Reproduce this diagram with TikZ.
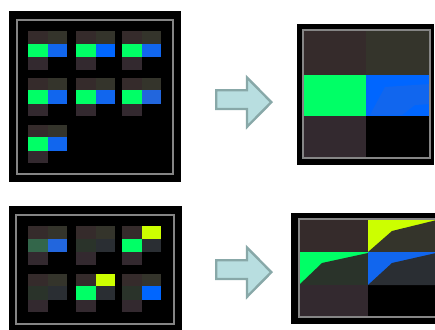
\documentclass[tikz,border=0pt]{standalone}
\definecolor{tlc}{HTML}{352B2B}
\definecolor{trc}{HTML}{34342B}
\definecolor{blc}{HTML}{33292F}
\definecolor{grn}{HTML}{00FF66}
\definecolor{bluA}{HTML}{0066FF}
\definecolor{bluB}{HTML}{1166EE}
\definecolor{bluC}{HTML}{2266DD}
\definecolor{yel}{HTML}{CCFF00}
\definecolor{dgrn}{HTML}{2A332A}
\definecolor{dgry}{HTML}{2A2E33}
\definecolor{mgrn}{HTML}{33664A}
\definecolor{framegray}{HTML}{858585}
\definecolor{arrowfill}{HTML}{B8DEE0}
\definecolor{arrowline}{HTML}{88A8A8}
\tikzset{
  panel/.style={fill=black},
  frame/.style={draw=framegray, line width=2pt},
  bigarrow/.style={fill=arrowfill, draw=arrowline, line width=2.4pt, line join=miter},
}
% tile: x, y, top-right colour, middle-left colour, middle-right colour
\newcommand{\mytile}[5]{%
  \begin{scope}[shift={(#1,#2)}]
    \fill[tlc] (0,0) rectangle (19.7,12.5);
    \fill[#3] (19.7,0) rectangle (39.4,12.5);
    \fill[#4] (0,12.5) rectangle (19.7,26);
    \fill[#5] (19.7,12.5) rectangle (39.4,26);
    \fill[blc] (0,26) rectangle (19.7,38.5);
  \end{scope}}
\begin{document}
\begin{tikzpicture}[x=1pt,y=-1pt]
\useasboundingbox (0,0) rectangle (435,329);
\clip (0,0) rectangle (435,329);
\fill[white] (0,0) rectangle (435,329);

% ---------- top-left panel ----------
\fill[panel] (9,11) rectangle (181,182);
\mytile{28}{31}{trc}{grn}{bluB}
\mytile{76}{31}{trc}{grn}{bluA}
\mytile{122}{31}{trc}{grn}{bluB}
\mytile{28}{77.5}{trc}{grn}{bluB}
\mytile{76}{77.5}{trc}{grn}{bluB}
\mytile{122}{77.5}{trc}{grn}{bluC}
\mytile{28}{124.5}{trc}{grn}{bluB}
\draw[frame] (16.7,20) rectangle (172.7,173.7);

% ---------- top arrow ----------
\draw[bigarrow] (216.2,90.2) -- (247,90.2) -- (247,77.5) -- (271.3,102.2) -- (247,126.8) -- (247,109) -- (216.2,109) -- cycle;

% ---------- top-right panel ----------
\fill[panel] (297,24) rectangle (434,165);
\fill[tlc] (303,30) rectangle (366,75);
\fill[trc] (366,30) rectangle (430,75);
\fill[grn] (303,75) rectangle (366,116);
\fill[bluA] (366,75) rectangle (430,116);
\fill[bluB] (370,115) -- (385,87) -- (430,84) -- (430,104) -- (415,105) -- (402,115) -- cycle;
\fill[blc] (303,116) rectangle (366,158);
\draw[frame] (303,30) rectangle (430,158);

% ---------- bottom-left panel ----------
\fill[panel] (9,206) rectangle (182,335);
\mytile{28}{226}{trc}{mgrn}{bluC}
\mytile{76}{226}{trc}{dgrn}{dgry}
\mytile{122}{226}{yel}{grn}{dgry}
\mytile{28}{273.5}{trc}{dgrn}{dgry}
\mytile{76}{273.5}{yel}{grn}{dgry}
\mytile{122}{273.5}{trc}{dgrn}{bluA}
\draw[frame] (16.3,215) rectangle (173.7,324);

% ---------- bottom arrow ----------
\draw[bigarrow] (216.2,260.2) -- (247,260.2) -- (247,247.5) -- (271.3,272.2) -- (247,296.8) -- (247,279) -- (216.2,279) -- cycle;

% ---------- bottom-right panel ----------
\fill[panel] (291,213) rectangle (445,324);
\fill[tlc] (299,219) rectangle (368,252);
\fill[yel] (368,219) rectangle (445,252);
\fill[trc] (368,252) -- (392,231) -- (445,218) -- (445,252) -- cycle;
\fill[grn] (299,252) rectangle (368,285);
\fill[dgrn] (299,285) -- (322,263) -- (368,253) -- (368,285) -- cycle;
\fill[bluB] (368,252) rectangle (445,285);
\fill[dgry] (368,285) -- (392,263) -- (445,251) -- (445,285) -- cycle;
\fill[blc] (299,285) rectangle (368,317);
\draw[frame] (299,219) rectangle (450,317);
\end{tikzpicture}
\end{document}
